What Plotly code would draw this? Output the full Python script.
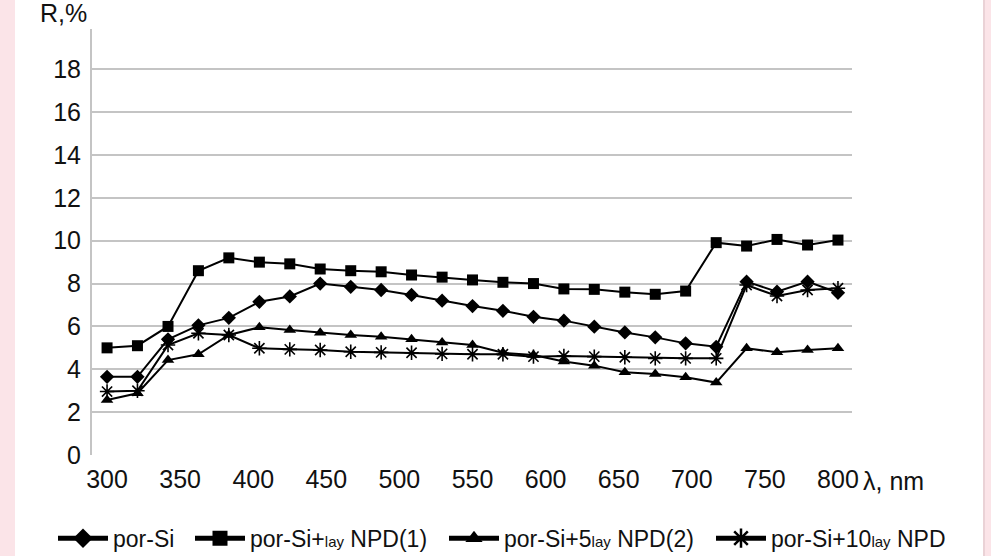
import plotly.graph_objects as go

# wavelength of each measured point (nm)
wavelength = [300, 320.8, 341.7, 362.5, 383.3, 404.2, 425, 445.8, 466.7, 487.5,
              508.3, 529.2, 550, 570.8, 591.7, 612.5, 633.3, 654.2, 675, 695.8,
              716.7, 737.5, 758.3, 779.2, 800]

por_si = [3.65, 3.65, 5.4, 6.05, 6.4, 7.15, 7.4, 8.0, 7.85, 7.7,
          7.47, 7.2, 6.95, 6.73, 6.45, 6.27, 5.99, 5.72, 5.49, 5.21,
          5.05, 8.09, 7.62, 8.09, 7.57]
npd1 = [5.0, 5.1, 6.0, 8.6, 9.2, 9.0, 8.92, 8.68, 8.6, 8.55,
        8.4, 8.3, 8.17, 8.06, 8.0, 7.75, 7.73, 7.6, 7.5, 7.65,
        9.91, 9.75, 10.06, 9.8, 10.03]
npd2 = [2.57, 2.88, 4.43, 4.7, 5.6, 5.96, 5.83, 5.71, 5.6, 5.52,
        5.4, 5.25, 5.13, 4.77, 4.67, 4.36, 4.17, 3.86, 3.78, 3.63,
        3.38, 4.98, 4.79, 4.9, 4.98]
npd10 = [2.96, 3.0, 5.13, 5.68, 5.6, 4.98, 4.93, 4.9, 4.82, 4.79,
         4.77, 4.72, 4.7, 4.7, 4.59, 4.62, 4.59, 4.56, 4.51, 4.51,
         4.51, 7.93, 7.42, 7.7, 7.78]

series_names = [
    "por-Si",
    "por-Si+<span style='font-size:15px'>lay</span> NPD(1)",
    "por-Si+5<span style='font-size:15px'>lay</span> NPD(2)",
    "por-Si+10<span style='font-size:15px'>lay</span> NPD",
]
x_ticks = [300, 350, 400, 450, 500, 550, 600, 650, 700, 750, 800]
y_ticks = [0, 2, 4, 6, 8, 10, 12, 14, 16, 18]

FONT = "Liberation Sans, Arial, sans-serif"

# legend placement (left edge of each legend entry, px from left)
legend_left_px = [53, 190, 444, 711]

fig = go.Figure()
styles = [
    dict(symbol="diamond", size=11),
    dict(symbol="square", size=11),
    dict(symbol="triangle-up", size=11),
    dict(symbol="asterisk-open", size=12, line=dict(width=1.6, color="black")),
]
legend_styles = [
    dict(symbol="diamond", size=15),
    dict(symbol="square", size=15),
    dict(symbol="triangle-up", size=15),
    dict(symbol="asterisk-open", size=16, line=dict(width=2.5, color="black")),
]
legend_ids = ["legend", "legend2", "legend3", "legend4"]
for name, ys, st, lst, lid in zip(series_names, [por_si, npd1, npd2, npd10],
                                  styles, legend_styles, legend_ids):
    fig.add_trace(go.Scatter(
        x=wavelength, y=ys, name=name, mode="lines+markers",
        line=dict(color="black", width=2),
        marker=dict(color="black", **st), showlegend=False,
    ))
    # legend proxy (no data) so the key can use a thicker stroke
    fig.add_trace(go.Scatter(
        x=[None], y=[None], name=name, mode="lines+markers",
        line=dict(color="black", width=5),
        marker=dict(color="black", **lst), legend=lid, showlegend=True,
    ))

legend_common = dict(orientation="h", xref="container", yref="container",
                     xanchor="left", yanchor="middle", y=0.032,
                     font=dict(size=23), itemwidth=50,
                     bgcolor="rgba(0,0,0,0)", borderwidth=0)
legends = {}
for lid, px in zip(legend_ids, legend_left_px):
    legends[lid] = dict(legend_common, x=px / 991)

fig.update_layout(
    width=991, height=556,
    margin=dict(l=92, r=139, t=29, b=101, autoexpand=False),
    paper_bgcolor="#fbe4e8",
    plot_bgcolor="rgba(0,0,0,0)",
    font=dict(family=FONT, size=24, color="#111111"),
    showlegend=True,
    shapes=[
        dict(type="rect", xref="paper", yref="paper",
             x0=-0.1013, x1=1.1724, y0=-0.237, y1=1.068,
             fillcolor="white", line=dict(width=0), layer="below"),
        dict(type="line", xref="paper", yref="paper",
             x0=1.1737, x1=1.1737, y0=-0.237, y1=1.068,
             line=dict(color="#ead2d6", width=2), layer="below"),
    ],
    annotations=[
        dict(text="R,%", xref="paper", yref="paper", x=-0.004, y=1.075,
             xanchor="right", yanchor="top", showarrow=False,
             font=dict(size=25)),
        dict(text="λ, nm", xref="paper", yref="paper", x=1.012, y=-0.06,
             xanchor="left", yanchor="middle", showarrow=False,
             font=dict(size=25)),
    ],
    **legends,
)
fig.update_xaxes(range=[289.7, 809.6], tickvals=x_ticks, showgrid=False,
                 zeroline=False, showline=False, ticks="",
                 ticklabelstandoff=7, tickfont=dict(size=25))
fig.update_yaxes(range=[0, 19.88], tickvals=y_ticks, showgrid=True,
                 gridcolor="#c4c4c4", gridwidth=2, zeroline=False,
                 showline=True, linecolor="#c4c4c4", linewidth=2, ticks="",
                 ticklabelstandoff=4, tickfont=dict(size=25))

fig.write_html("out.html")
